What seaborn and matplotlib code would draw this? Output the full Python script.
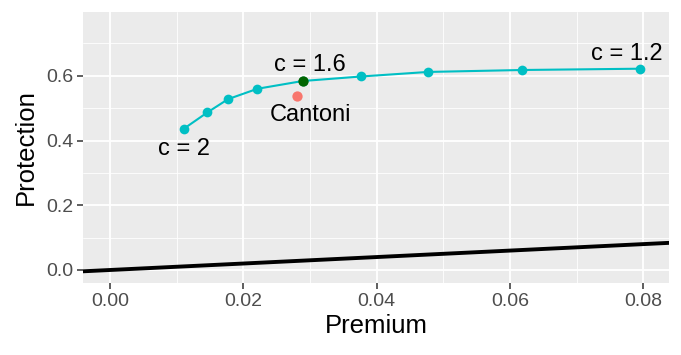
import matplotlib
matplotlib.use("Agg")
import matplotlib.pyplot as plt
import seaborn as sns
import pandas as pd
import numpy as np

# frontier points, c from 2 down to 1.2
premium = [0.0111, 0.0146, 0.0177, 0.0221, 0.0289, 0.0377, 0.0477, 0.0618, 0.0795]
protection = [0.437, 0.487, 0.528, 0.560, 0.584, 0.598, 0.612, 0.618, 0.622]
c_values = [2.0, 1.9, 1.8, 1.7, 1.6, 1.5, 1.4, 1.3, 1.2]

cantoni_premium = [0.0281]
cantoni_protection = [0.538]

highlight_c = 1.6

df = pd.DataFrame({"Premium": premium, "Protection": protection, "c": c_values})
cant = pd.DataFrame({"Premium": cantoni_premium, "Protection": cantoni_protection})

sns.set_theme(style="darkgrid", rc={
    "axes.facecolor": "#EBEBEB",
    "grid.color": "white",
    "axes.edgecolor": "#EBEBEB",
    "text.color": "black",
    "axes.labelcolor": "black",
})
plt.rcParams["font.family"] = ["Liberation Sans", "DejaVu Sans"]

fig, ax = plt.subplots(figsize=(6.81, 3.55), dpi=100)
fig.subplots_adjust(left=0.122, right=0.982, top=0.966, bottom=0.203)

ax.set_xlim(-0.00405, 0.0838)
ax.set_ylim(-0.040, 0.797)

# identity line premium = protection
ax.axline((0, 0), slope=1, color="black", lw=2.8, zorder=2)

sns.lineplot(data=df, x="Premium", y="Protection", color="#00BFC4", lw=1.5,
             marker="o", markersize=7, markeredgewidth=0, ax=ax, zorder=3)
hl = df[df["c"] == highlight_c]
sns.scatterplot(data=hl, x="Premium", y="Protection", color="#006400", s=55,
                linewidth=0, ax=ax, zorder=4)
sns.scatterplot(data=cant, x="Premium", y="Protection", color="#F8766D", s=55,
                linewidth=0, ax=ax, zorder=4)

fs = 17
r2 = df[df["c"] == 2.0].iloc[0]
ax.text(r2["Premium"], r2["Protection"] - 0.063, "c = 2", ha="center", va="center", fontsize=fs)
r16 = df[df["c"] == 1.6].iloc[0]
ax.text(r16["Premium"] + 0.001, r16["Protection"] + 0.050, "c = 1.6", ha="center", va="center", fontsize=fs)
r12 = df[df["c"] == 1.2].iloc[0]
ax.text(r12["Premium"] - 0.002, r12["Protection"] + 0.046, "c = 1.2", ha="center", va="center", fontsize=fs)
ax.text(cant["Premium"][0] + 0.002, cant["Protection"][0] - 0.058, "Cantoni", ha="center", va="center", fontsize=fs)

ax.set_xticks([0.00, 0.02, 0.04, 0.06, 0.08])
ax.set_xticklabels(["0.00", "0.02", "0.04", "0.06", "0.08"])
ax.set_yticks([0.0, 0.2, 0.4, 0.6])
ax.set_yticklabels(["0.0", "0.2", "0.4", "0.6"])
ax.set_xticks([0.01, 0.03, 0.05, 0.07], minor=True)
ax.set_yticks([0.1, 0.3, 0.5, 0.7], minor=True)
ax.grid(which="major", color="white", lw=1.3)
ax.grid(which="minor", color="white", lw=0.6)
ax.tick_params(axis="both", which="major", length=4, width=1.1, color="#333333",
               labelsize=14, labelcolor="#4D4D4D", pad=3, bottom=True, left=True)
ax.tick_params(axis="both", which="minor", length=0)

ax.set_xlabel("Premium", fontsize=18.5, labelpad=3)
ax.set_ylabel("Protection", fontsize=18.5, labelpad=6)
for s in ax.spines.values():
    s.set_visible(False)

fig.savefig("out.png", dpi=100)
